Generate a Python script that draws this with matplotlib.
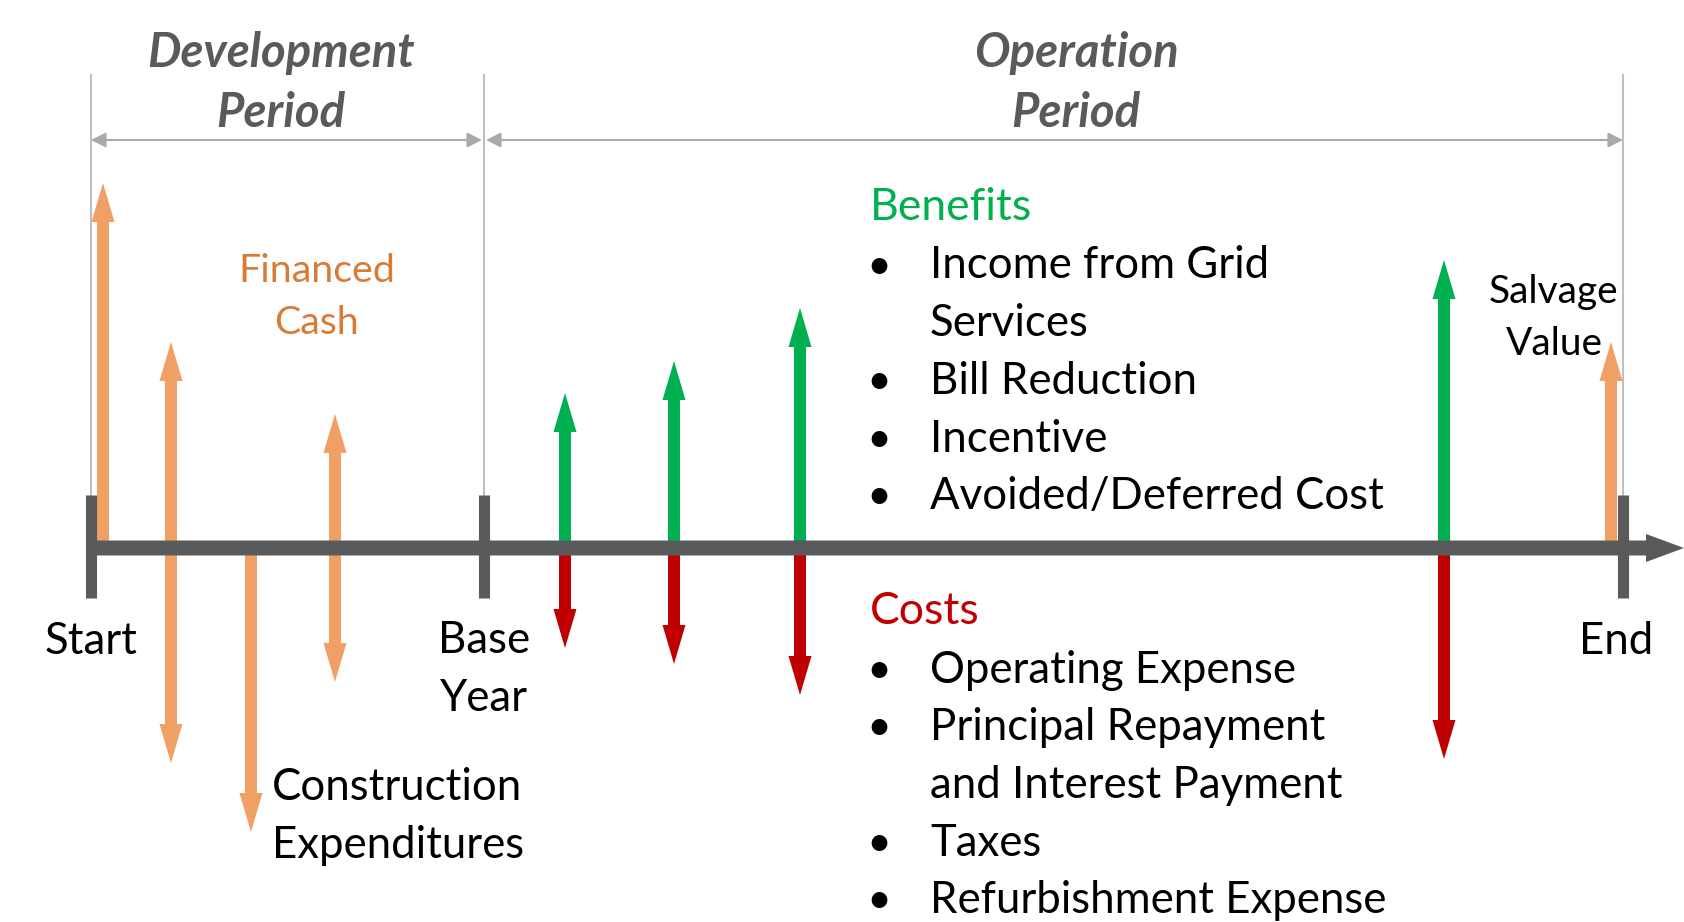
import matplotlib
matplotlib.use('Agg')
import matplotlib.pyplot as plt

OUTPUT = 'out.png'
FONT = 'Lato'

# cash flow positions along the timeline (px) and sizes (px above / below the line)
fin_x = [103, 171, 251, 335]
fin_in = [365, 206, 0, 134]
fin_out = [0, 215, 284, 134]

op_x = [565, 674, 800, 1444]
benefits = [155, 187, 240, 288]
costs = [100, 116, 147, 211]

salvage_x = 1611
salvage_val = 206

tick_x = [91, 484, 1623]
tick_labels = ['Start', 'Base\nYear', 'End']

benefit_items = ['Income from Grid\nServices', 'Bill Reduction', 'Incentive',
                 'Avoided/Deferred Cost']
cost_items = ['Operating Expense', 'Principal Repayment\nand Interest Payment',
              'Taxes', 'Refurbishment Expense']

ORANGE = '#F0A064'
ORANGE_TXT = '#D97A36'
GREEN = '#00B050'
RED = '#C00000'
DARK = '#595A5C'
LGRAY = '#BFBFBF'

W, H, Y0 = 1684, 922, 548
LINE = 57.7      # text row pitch (px)
FS = 31.5        # main text size
LS = 1.51        # line spacing for two-line labels
DY = 4           # text baseline nudge (px)

fig = plt.figure(figsize=(W / 100, H / 100), dpi=100)
ax = fig.add_axes([0, 0, 1, 1])
ax.set_xlim(0, W)
ax.set_ylim(Y0 - H, Y0)
ax.axis('off')


def py(p):
    # pixel row -> data y
    return Y0 - p


def flow(x, h, color):
    if h == 0:
        return
    ax.arrow(x, 0, 0, h, width=12, head_width=23, head_length=39,
             length_includes_head=True, color=color, lw=0, zorder=2)


def block(x, first_row, s, ha='left', **kw):
    # first_row = pixel row of the first line's centre
    n = s.count('\n')
    ax.text(x, py(first_row + DY + n * LINE / 2), s, ha=ha, va='center', family=FONT,
            linespacing=kw.pop('linespacing', LS), **kw)


# ============================================================
# Timeline
# ============================================================
ax.arrow(tick_x[0], 0, W - tick_x[0], 0, width=15, head_width=28, head_length=38,
         length_includes_head=True, color=DARK, lw=0, zorder=4)
for x in tick_x:
    ax.plot([x, x], [py(495), py(598)], color=DARK, lw=8, solid_capstyle='butt', zorder=4)
    ax.plot([x, x], [py(75), py(495)], color=LGRAY, lw=1.5, zorder=1)

# period spans
ax.annotate('', xy=(tick_x[0], py(140)), xytext=(tick_x[1] - 2, py(140)),
            arrowprops=dict(arrowstyle='<|-|>', color='#A9A9A9', lw=1.5, mutation_scale=22,
                            shrinkA=0, shrinkB=0))
ax.annotate('', xy=(tick_x[1] + 2, py(140)), xytext=(tick_x[2], py(140)),
            arrowprops=dict(arrowstyle='<|-|>', color='#A9A9A9', lw=1.5, mutation_scale=22,
                            shrinkA=0, shrinkB=0))
ax.text(281, py(83), 'Development\nPeriod', ha='center', va='center', fontsize=34,
        family=FONT, weight='bold', style='italic', color=DARK, linespacing=1.45)
ax.text(1076, py(83), 'Operation\nPeriod', ha='center', va='center', fontsize=34,
        family=FONT, weight='bold', style='italic', color=DARK, linespacing=1.45)

# ============================================================
# Flows
# ============================================================
for x, a, b in zip(fin_x, fin_in, fin_out):
    flow(x, a, ORANGE)
    flow(x, -b, ORANGE)
for x, a, b in zip(op_x, benefits, costs):
    flow(x, a, GREEN)
    flow(x, -b, RED)
flow(salvage_x, salvage_val, ORANGE)

# ============================================================
# Labels
# ============================================================
label_x = [91, 484, 1616]
for x, lab in zip(label_x, tick_labels):
    block(x, 637, lab, ha='center', fontsize=FS, color='black')

ax.text(317, py(297), 'Financed\nCash', ha='center', va='center', fontsize=28.4,
        family=FONT, color=ORANGE_TXT, linespacing=1.53)
block(272, 784, 'Construction\nExpenditures', fontsize=FS, color='black')
ax.text(1554, py(318), 'Salvage\nValue', ha='center', va='center', fontsize=28,
        family=FONT, color='black', linespacing=1.56)

ax.text(870, py(208), 'Benefits', ha='left', va='center', fontsize=32, family=FONT, color=GREEN)
ax.text(870, py(612), 'Costs', ha='left', va='center', fontsize=32, family=FONT, color=RED)

for items, start in ((benefit_items, 262), (cost_items, 666)):
    row = 0
    for item in items:
        ax.text(879, py(start + DY + row * LINE), '\u2022', ha='center', va='center',
                fontsize=26, family=FONT, weight='bold')
        block(930, start + row * LINE, item, fontsize=FS, color='black')
        row += 1 + item.count('\n')

fig.savefig(OUTPUT, dpi=100)
